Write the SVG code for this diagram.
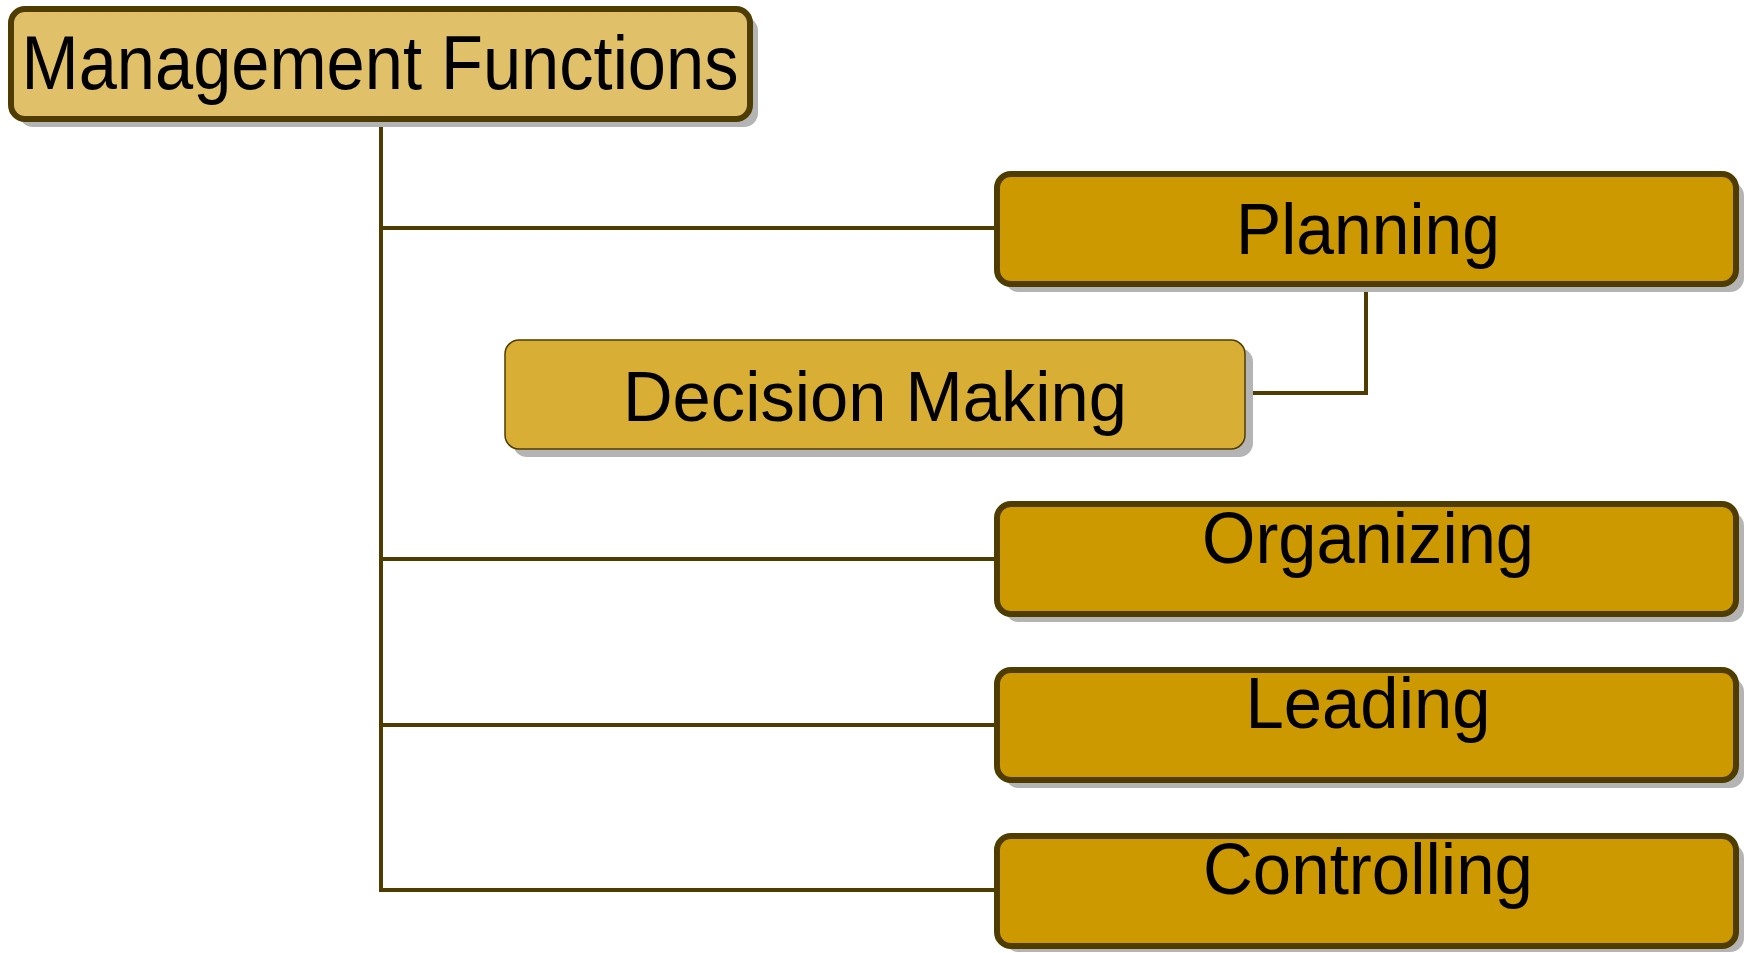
<svg xmlns="http://www.w3.org/2000/svg" width="1747" height="953" viewBox="0 0 1747 953">
<style>
.sh{fill:#b4b4b4}
.main{fill:#cc9900;stroke:#4f3c00;stroke-width:6}
.root{fill:#e0c068;stroke:#4f3c00;stroke-width:6}
.sub{fill:#d8ae35;stroke:#4f3c00;stroke-width:1.5}
.t{font-family:"Liberation Sans",Arial,sans-serif;fill:#000;text-anchor:middle}
.c{fill:none;stroke:#4f3c00;stroke-width:4}
</style>
<rect width="1747" height="953" fill="#fff"/>
<g id="connectors">
<path class="c" d="M381 119V890M381 228H997M381 559H997M381 725H997M379 890H997"/>
<path class="c" d="M1366 284V393H1245"/>
</g>
<g id="root">
<rect class="sh" x="19" y="17" width="739" height="110" rx="14"/>
<rect class="root" x="11" y="9" width="739" height="110" rx="14"/>
<text class="t" x="380" y="89" font-size="76" textLength="717" lengthAdjust="spacingAndGlyphs">Management Functions</text>
</g>
<g id="planning">
<rect class="sh" x="1005" y="182" width="739" height="110" rx="14"/>
<rect class="main" x="997" y="174" width="739" height="110" rx="14"/>
<text class="t" x="1368" y="254" font-size="73" textLength="264" lengthAdjust="spacingAndGlyphs">Planning</text>
</g>
<g id="decision">
<rect class="sh" x="513" y="348" width="740" height="109" rx="14"/>
<rect class="sub" x="505" y="340" width="740" height="109" rx="14"/>
<text class="t" x="875" y="421" font-size="71" textLength="504" lengthAdjust="spacingAndGlyphs">Decision Making</text>
</g>
<g id="organizing">
<rect class="sh" x="1005" y="512" width="739" height="110" rx="14"/>
<rect class="main" x="997" y="504" width="739" height="110" rx="14"/>
<text class="t" x="1368" y="563" font-size="73" textLength="332" lengthAdjust="spacingAndGlyphs">Organizing</text>
</g>
<g id="leading">
<rect class="sh" x="1005" y="678" width="739" height="110" rx="14"/>
<rect class="main" x="997" y="670" width="739" height="110" rx="14"/>
<text class="t" x="1368" y="728" font-size="73" textLength="245" lengthAdjust="spacingAndGlyphs">Leading</text>
</g>
<g id="controlling">
<rect class="sh" x="1005" y="844" width="739" height="108" rx="14"/>
<rect class="main" x="997" y="836" width="739" height="110" rx="14"/>
<text class="t" x="1368" y="894" font-size="73" textLength="330" lengthAdjust="spacingAndGlyphs">Controlling</text>
</g>
</svg>
